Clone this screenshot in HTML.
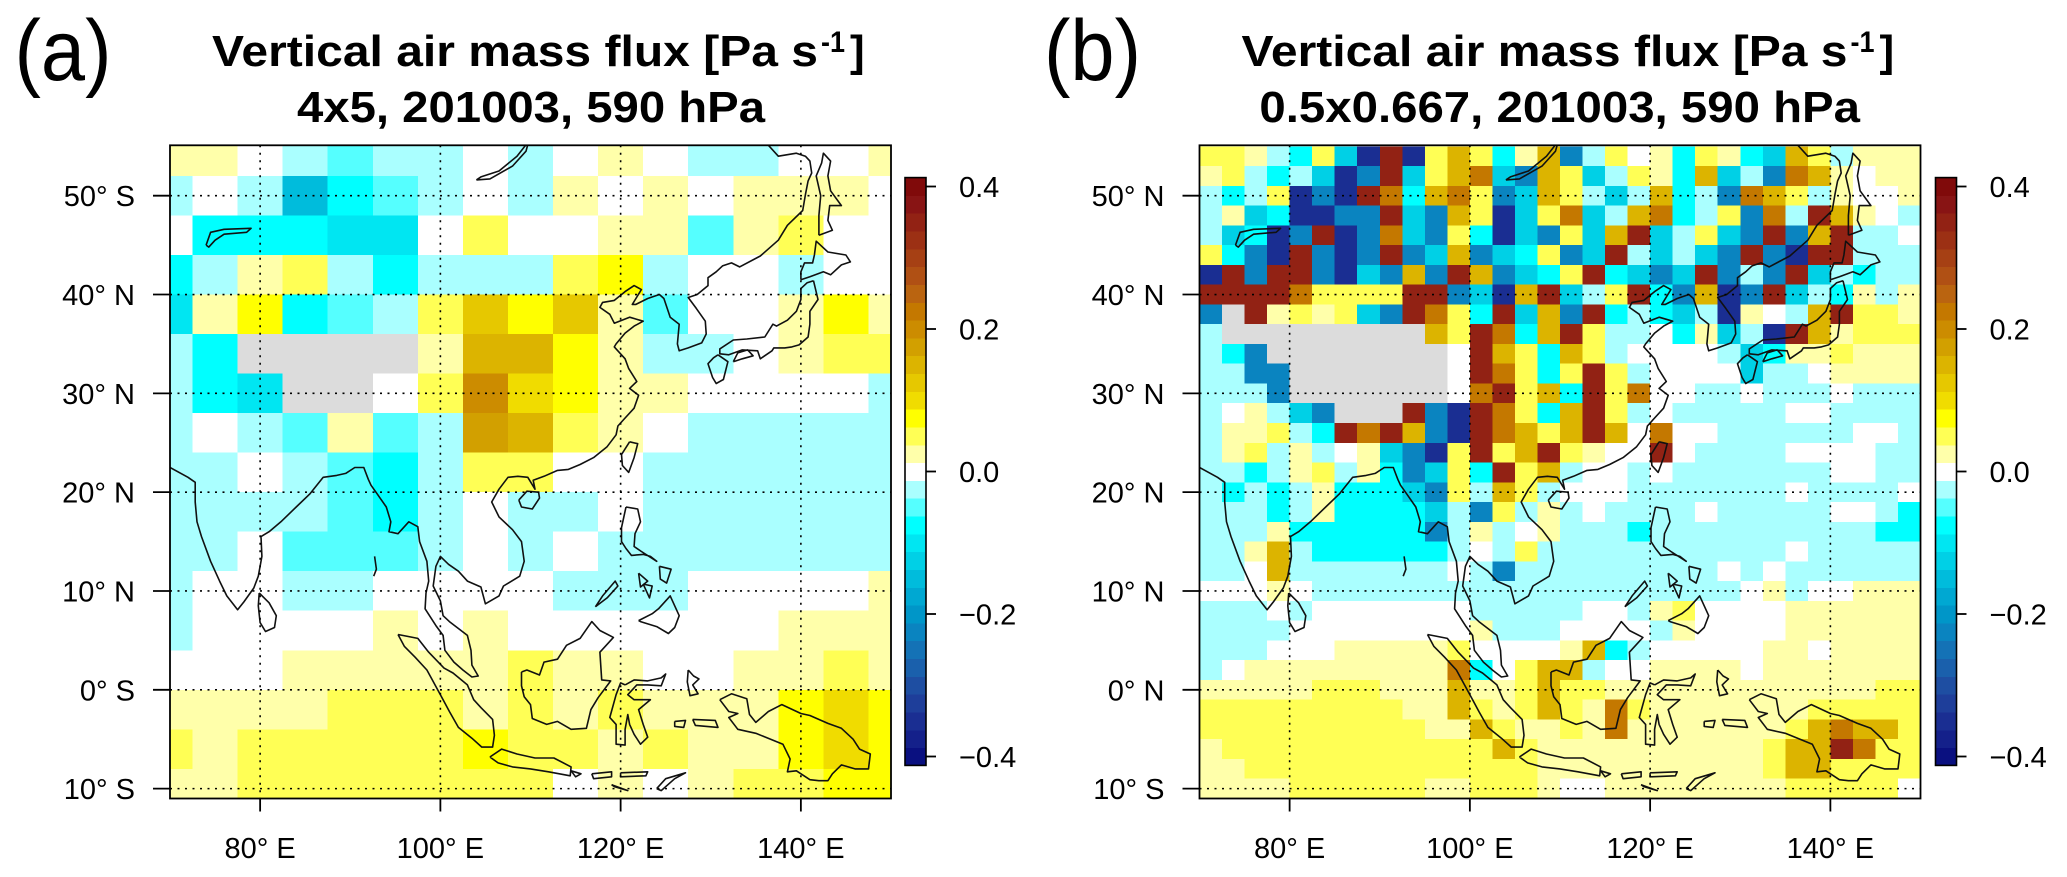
<!DOCTYPE html>
<html><head><meta charset="utf-8"><title>Vertical air mass flux</title>
<style>
html,body{margin:0;padding:0;background:#fff;}
svg{display:block;font-family:"Liberation Sans",Arial,sans-serif;}
</style></head>
<body>
<svg id="fig" width="2067" height="877" viewBox="0 0 2067 877" xmlns="http://www.w3.org/2000/svg">
<defs>
<clipPath id="clipA"><rect x="170" y="145.3" width="721" height="653"/></clipPath>
<clipPath id="clipB"><rect x="1199.5" y="145.3" width="721" height="653"/></clipPath>
</defs>
<rect x="0" y="0" width="2067" height="877" fill="#fff"/>
</svg>
<script>
// ---------- DATA ----------
const aLonStart = 67.5, aLonStep = 5, aLatTop = 56, aLatStep = 4;
const aValues = [
 [0.025,0.025,0,-0.025,-0.05,-0.025,-0.025,0,-0.025,0,0.025,0,-0.025,-0.025,0,0,0.025],
 [-0.025,0,-0.025,-0.15,-0.075,-0.05,-0.025,0,-0.025,0.025,0,0.025,0,0.025,0.025,0.025,0],
 [0,-0.075,-0.075,-0.075,-0.1,-0.1,0,0.05,0,0,0.025,0.025,-0.05,0.025,0.05,0,0],
 [-0.075,-0.025,0.025,0.05,-0.025,-0.075,-0.025,-0.025,-0.025,0.05,0.075,-0.025,0,0,-0.025,0,0],
 [-0.1,0.025,0.075,-0.075,-0.05,-0.025,0.05,0.125,0.075,0.125,0.025,-0.05,0,0,0.025,0.075,0.025],
 [-0.025,-0.075,null,null,null,null,0.025,0.15,0.15,0.075,0.025,-0.025,-0.025,0,0.025,0.05,0.05],
 [-0.025,-0.075,-0.1,null,null,0,0.05,0.2,0.1,0.075,0.025,0.025,0,0,0,0,-0.025],
 [-0.025,0,-0.025,-0.05,0.025,-0.05,-0.025,0.175,0.15,0.05,0.025,0,-0.025,-0.025,-0.025,-0.025,-0.025],
 [-0.025,-0.025,0,-0.025,-0.05,-0.075,-0.025,0.05,0.05,0,0,-0.025,-0.025,-0.025,-0.025,-0.025,-0.025],
 [-0.025,-0.025,-0.025,-0.025,-0.05,-0.075,-0.025,0,-0.025,-0.025,0,-0.025,-0.025,-0.025,-0.025,-0.025,-0.025],
 [-0.025,-0.025,0,-0.05,-0.05,-0.05,-0.025,0,-0.025,0,-0.025,-0.025,-0.025,-0.025,-0.025,-0.025,-0.025],
 [-0.025,0,0,-0.025,-0.025,0,0,0,0,-0.025,-0.025,-0.025,0,0,0,0,0.025],
 [-0.025,0,0,0,0,0.025,0,0.025,0,0,0,0,0,0,0.025,0.025,0.025],
 [0,0,0,0.025,0.025,0.025,0.025,0.025,0.05,0.025,0.025,0,0,0.025,0.025,0.05,0.025],
 [0.025,0.025,0.025,0.025,0.05,0.05,0.05,0.025,0.05,0.025,0.05,0.025,0.025,0.025,0.075,0.1,0.075],
 [0.05,0.025,0.05,0.05,0.05,0.05,0.05,0.075,0.05,0.05,0.025,0.05,0.025,0.025,0.075,0.1,0.075],
 [0.025,0.025,0.05,0.05,0.05,0.05,0.05,0.05,0.05,0,0.025,0,0.025,0.05,0.05,0.075,0.075]
];
const bLonStart = 70, bLonStep = 2.5, bLatTop = 55, bLatStep = 2;
const bCodeValues = {N:-0.35,B:-0.22,T:-0.13,C:-0.075,c:-0.025,'.':0,y:0.025,Y:0.05,G:0.15,O:0.22,R:0.35,x:null};
const bRows = [
 "YYycCYTNRNYGYCyGBcY.yCYyCTGYcyyy",
 "yYcCcTNBRTYGOTBGYTcYyCGTcBOGy.yy",
 "cCcYNBNROCGOYBTGYcTcGCcBOGYcy..y",
 "cyTCNNBBRTBGYNTYOTcGOCcYBOcRGy.c",
 "cTCNBRNBOTBYCNTBYTGRTcYTBRBGRcc.",
 "YCBNRBNBRBTGBTCYBTRcTcTBRBNRRccc",
 "NRBRRBNTBGBRGBTCYRCTBTRBcBRTcCcc",
 "RRRROYYYYRRBTNGRTcYRCBGNBRTcCycy",
 "BxRyYyYTBROYCRTGBRCcCTcNy.cGRYYy",
 "cxxxxxxxxxGYROCGRYcc.CyTcNRGyYYY",
 "cCBxxxxxxxx.RGYCGYc....cTCyyYyyy",
 "ccBBxxxxxxx.ROYCYRYc....Tcc.yyyy",
 "cccBxxxxxxx.ORYGCRYO..cc.ccc.ccc",
 "c.ycTBxxxRBNROYCGRYc.ccccc..cccc",
 "cyyYcCRORGBNROGYGRG.O..cccccc..c",
 "cyYcyc.yTBNYRYGRYy..R.cccc....cc",
 "ccCcyYcyCBTYCRYGc..c.ccccccc..cc",
 "cCcCcyCCCTBYcGYc...ccccccc.cccc.",
 "cccCcyCCCCTcBYcyc.cccc.ccccc..cC",
 "cccyCCCCCCBcyc.ycccCccccccccccCC",
 "ccyGcCCCCCCc.cYccccccccccc.ccccc",
 "cc.Gccccccc.cBccccccccc.c.cccccc",
 "...y.ccccccccccccccccccc.yc..yyy",
 "ccc.c.......ccccc..cyY....yyyyyy",
 "cccc........yccc....cy....yyyyyy",
 "ccc...yyyyyY....yGCc.....yy.yyyy",
 "c.yyyyyyyyyOC.YGGc..yyyy.yyyyyyy",
 "yyyyyYYYyyyGyyYGYYyyyyyyyyyyyyYY",
 "YYYYYYYYYyyGYyYGYyOYyyyyyyyYYYYY",
 "YYYYYYYYYYyyGYyyYyOyyyyyyyYGOGGY",
 "yYYYYYYYYYYYYGYyyyyyyyyyyYGGROYY",
 "yyYYYYYYYYYYYYYyyyyyyyyyyYGGYYYY",
 "yyyyYYYYYYyyYYYy..yyyyyyyyYYYYY."
];
const lonTicks = [80,100,120,140];
const lonTickLabels = ["80° E","100° E","120° E","140° E"];
const latTicks = [50,40,30,20,10,0,-10];
const latLabelsA = ["50° S","40° N","30° N","20° N","10° N","0° S","10° S"];
const latLabelsB = ["50° N","40° N","30° N","20° N","10° N","0° N","10° S"];
const cbTicks = [0.4,0.2,0,-0.2,-0.4];
const cbTickLabels = ["0.4","0.2","0.0","\u22120.2","\u22120.4"];

const POS = ['#ffffff','#ffffaa','#ffff55','#ffff00','#f0dc00','#e6c800','#dcb400','#d2a000','#cc8c00','#c47800','#ba6410','#b05014','#a64014','#9c3014','#922214','#881414','#800a0a'];
const NEG = ['#ffffff','#aaffff','#55ffff','#00ffff','#00e6f2','#00d0e6','#00bcdc','#00a8d2','#0096c8','#0a84c0','#1472b6','#1a60ac','#1e4ea2','#1e3e9a','#1a2e92','#14208a','#0a1080'];

const coasts = [
 [[70,22.5],[72,21.5],[72.8,21],[72.8,19],[73,17],[73.5,15.5],[74.5,13],[75.5,11],[76.3,9.5],[77.5,8.1],[78.2,8.9],[79.3,10.3],[79.8,11.5],[80.2,13.5],[80.1,15.5],[81,16],[82.3,17],[84,18.5],[85.5,19.8],[87,21.5],[88.5,21.7],[89.5,21.9],[90.5,22.5],[91.5,22.5],[92,21.3],[92.3,20.7],[93,19.8],[94,18.5],[94.5,17],[94.3,16],[95.3,15.8],[96.5,17],[97.5,16.5],[97.7,15],[98.5,13],[98.7,11],[98.4,9.8],[98.3,8.2],[99.5,6.5],[100.3,5.5],[100.5,4],[101.5,2.8],[102.5,2],[103.5,1.3],[104.2,1.4],[103.5,2.5],[103.4,4],[103,5.5],[102,6.2],[101,6.9],[100.3,7.5],[100,9],[99.2,10.5],[99.5,12.5],[100,13.5],[100.9,12.7],[102,12],[103,11],[104.5,10.4],[105,8.7],[106.5,9.5],[107,10.5],[108.8,11.5],[109.3,13],[109,15],[108,16.2],[106.5,17.5],[105.7,19],[106.5,20.3],[107.5,21.5],[108.6,21.6],[109.7,21.5],[110.5,20.3],[110.3,21.2],[111.5,21.6],[113,22.2],[114.2,22.3],[115.5,22.8],[117,23.5],[118.5,24.6],[119.5,25.8],[119.7,26.7],[120.5,27.5],[121.5,28.5],[122,29.8],[121,30.5],[121.8,31.2],[120.9,32.5],[120.5,33.5],[119.3,34.7],[119.5,35],[120.5,36.1],[121.5,36.8],[122.5,37.3],[121,37.7],[119.3,37.1],[118.8,38],[117.7,38.7],[118,39.2],[119.3,39.4],[120.5,40.3],[121.5,40.9],[122.3,40.5],[121.3,39],[121.7,39],[123,39.6],[124.3,40],[124.8,39.6],[125.5,37.7],[126.5,37],[126.3,35],[126.5,34.3],[127.5,34.6],[129,35.1],[129.5,36],[129.4,37.3],[128.4,38.6],[127.5,39.7],[128.5,40],[129.7,40.9],[129.7,41.7],[130.6,42.3],[131.3,42.9],[132.3,43.2],[133.2,42.8],[135.5,43.9],[137.5,45.5],[138.5,47],[140.2,48.5],[140.5,50.1],[140.8,51.5],[141.2,52.3],[141,53.5],[140.5,54],[139.5,54.3],[137.5,54],[136,55.5]],
 [[142,46],[143.5,46.5],[143,47.5],[143.2,49],[144.5,49],[143.3,50.5],[143,52],[143.3,53.5],[142.5,54.3],[142.3,53.3],[141.7,52],[142.2,50],[142,48],[142,46]],
 [[140,41.5],[141,41.8],[142.5,42.3],[143.3,42],[144.5,43],[145.5,43.3],[145,44],[143,44.3],[141.7,45.4],[141.5,44],[141.3,43.2],[140.4,43.2],[140,42.3],[140,41.5]],
 [[141.4,41.4],[141.9,39.5],[141,38.3],[141,37],[140.8,35.7],[139.8,34.9],[139,34.7],[138.2,34.6],[137,34.6],[136.8,34.3],[135.5,33.5],[135.2,34.3],[133.5,34.4],[132,33.9],[131,34],[131,34.5],[132.5,35.4],[134,35.5],[136,35.7],[136.9,37],[137.3,36.8],[138.5,37.4],[139.5,38.3],[140,39.5],[140,40.6],[140.7,41.2],[141.4,41.4]],
 [[130.8,33.9],[131.9,33.2],[131.4,31.4],[130.6,31],[130.2,31.6],[129.7,33],[130.3,33.6],[130.8,33.9]],
 [[132.5,33.2],[133.5,33.5],[134.7,33.8],[134.1,34.4],[133,34.1],[132.5,33.2]],
 [[121,25.1],[121.9,24.9],[121.5,23.5],[120.9,22],[120.2,22.7],[120.1,23.8],[121,25.1]],
 [[108.7,19.2],[109.6,20.1],[110.9,20],[111,19.4],[110.2,18.3],[109,18.5],[108.7,19.2]],
 [[79.9,9.8],[81,8.8],[81.8,7.5],[81.6,6.3],[80.6,5.9],[80,6.8],[79.8,8.5],[79.9,9.8]],
 [[120.6,18.5],[121.9,18.3],[122.2,17],[121.6,15.8],[121.5,14.5],[122.3,14],[124,13],[123.3,13.5],[122.5,13.7],[121.2,13.6],[120.6,14.3],[120.1,15],[120.1,16.4],[120.6,18.5]],
 [[122,7],[123.5,7.7],[124.2,8.2],[125.5,9.5],[126.5,7.5],[126,6.3],[125.3,5.7],[124,6.4],[122.2,6.9],[122,7]],
 [[124.3,12.5],[125.6,12.2],[125.1,10.8],[124.4,11.2],[124.3,12.5]],
 [[122,11.8],[123,11],[122.2,10.4],[122,11.8]],
 [[122.5,10.7],[123.5,10.5],[123.2,9.3],[122.5,10.7]],
 [[117.2,8.4],[118.5,9.3],[119.7,10.5],[119.4,11],[118,9.5],[117.2,8.4]],
 [[109,1.8],[109.6,2],[111,1.5],[111.5,2.8],[113,3.1],[114,4.5],[115.5,5.2],[116.8,6.9],[117.7,6],[119.2,5.3],[118.3,4.4],[117.7,3.8],[117.9,1],[118.9,0.9],[117.5,-0.8],[116.7,-2],[116.2,-3.9],[114.5,-4],[113,-3.2],[111.8,-3.5],[110.2,-2.9],[110,-1.5],[109.3,-0.7],[109,0.4],[109,1.8]],
 [[95.3,5.6],[97.5,5.2],[98.7,3.8],[100.4,2.2],[101.4,1.7],[103,0.5],[103.7,-1],[104.5,-1.8],[105.8,-3],[106,-4.6],[105.8,-5.8],[104.6,-5.8],[103.5,-4.9],[102,-3.8],[101,-2.2],[100.3,-1],[99.1,1],[98.5,2],[97.2,3.3],[96,4.4],[95.3,5.6]],
 [[105.5,-6.8],[106.8,-6],[108.5,-6.5],[110.5,-6.9],[112.6,-6.9],[114.5,-7.8],[114.4,-8.7],[112,-8.3],[110,-8],[108,-7.8],[106.4,-7.4],[105.5,-6.8]],
 [[114.5,-8.2],[115.6,-8.5],[115,-8.8],[114.5,-8.2]],
 [[116.8,-8.5],[119,-8.3],[119,-8.8],[117,-9],[116.8,-8.5]],
 [[120,-8.4],[123,-8.3],[122.8,-8.7],[120,-8.8],[120,-8.4]],
 [[124,-10],[125,-9],[127.2,-8.4],[126,-9],[124.5,-10.2],[124,-10]],
 [[119,-9.6],[120.8,-10.2],[119.3,-9.8],[119,-9.6]],
 [[120.5,0.5],[121.5,1],[123,0.9],[124.5,1.2],[125,1.6],[124.5,0.4],[123,0.5],[121.8,0.5],[120.8,-0.5],[121.5,-1],[123.3,-1],[122,-2],[122.5,-3.5],[123,-4.8],[122.2,-5.5],[121.5,-4.5],[121,-3.5],[120.8,-2.5],[120.5,-4],[120.5,-5.6],[119.5,-5.5],[119.5,-3.5],[118.8,-2.8],[119.5,-0.5],[120,0.7],[120.5,0.5]],
 [[127.5,2],[128.1,1.4],[128.7,1.1],[128,0.5],[128.6,-0.4],[127.7,-0.6],[127.4,0.8],[127.5,2]],
 [[128,-3],[130.5,-3.1],[130.8,-3.8],[128.3,-3.6],[128,-3]],
 [[126,-3.2],[127.2,-3.1],[127,-3.8],[126,-3.7],[126,-3.2]],
 [[131,-1],[132.3,-0.4],[134,-0.9],[134.3,-2.5],[135,-3.3],[136.4,-2.2],[137.9,-1.5],[140,-2.4],[141,-2.6],[143,-3.4],[144.5,-3.9],[145.8,-5],[146.5,-6],[147.7,-6.5],[147.5,-8],[146,-8],[144.5,-7.6],[143.5,-8.5],[143,-9.2],[142,-9.2],[141,-9.1],[139.5,-8.2],[138.5,-8.3],[138.8,-7],[138,-5.5],[135,-4.4],[133,-4],[132,-2.8],[133,-2.4],[132,-2.2],[131,-1]],
 [[150,-5],[151.5,-4.2],[152,-5.5],[150,-6]],
 [[92.7,13.5],[92.9,12.2],[92.6,11.5]],
 [[74,45],[74.5,46.3],[76,46.6],[79,46.7],[78.5,46.3],[76,46.1],[75,45.5],[74.3,44.8],[74,45]],
 [[104,51.6],[105.5,51.7],[108,53],[109.5,54.5],[109.8,55.5],[108.5,54],[106.5,52.5],[104.5,51.9],[104,51.6]]
];

// ---------- DRAWING ----------
const NS = "http://www.w3.org/2000/svg";
const svg = document.getElementById('fig');
const PX0 = [170, 1199.5];
const PW = 721;
function xScale(lon, p){ return PX0[p] + (lon - 70) * PW / 80; }
function yScale(lat){ return 195.7 + (50 - lat) * 9.882; }
const PTOP = yScale(55.1), PBOT = yScale(-11);
function colour(v){
  if (v === null || v === undefined || isNaN(v)) return '#dcdcdc';
  let k = Math.round(v / 0.025);
  if (k > 16) k = 16; if (k < -16) k = -16;
  return k >= 0 ? POS[k] : NEG[-k];
}
function el(tag, attrs, parent){
  const e = document.createElementNS(NS, tag);
  for (const k in attrs) e.setAttribute(k, attrs[k]);
  (parent || svg).appendChild(e);
  return e;
}
function txt(str, attrs, parent){
  const t = el('text', attrs, parent);
  t.textContent = str;
  return t;
}

function drawCells(p, grid, lon0, lonStep, latTop, latStep){
  const g = el('g', {'clip-path': p === 0 ? 'url(#clipA)' : 'url(#clipB)', 'shape-rendering':'crispEdges'});
  
  
  for (let r = 0; r < grid.length; r++){
    for (let c = 0; c < grid[r].length; c++){
      const v = grid[r][c];
      const x0 = xScale(lon0 + c * lonStep, p), x1 = xScale(lon0 + (c + 1) * lonStep, p);
      const y0 = yScale(latTop - r * latStep), y1 = yScale(latTop - (r + 1) * latStep);
      const rc = el('rect', {x: x0.toFixed(2), y: y0.toFixed(2), width: (x1 - x0 + 0.6).toFixed(2), height: (y1 - y0 + 0.6).toFixed(2), fill: colour(v)}, g);
      
      
    }
  }
}

function drawPanel(p, grid, lon0, lonStep, latTop, latStep, latLabels, letter, line2, l2x0, l2x1){
  const dx = PX0[p] - PX0[0];
  drawCells(p, grid, lon0, lonStep, latTop, latStep);
  const cg = el('g', {'clip-path': p === 0 ? 'url(#clipA)' : 'url(#clipB)', fill:'none', stroke:'#111', 'stroke-width':'1.6', 'stroke-linejoin':'round'});
  
  
  coasts.forEach(function(line){
    const d = line.map(function(pt, i){ return (i ? 'L' : 'M') + xScale(pt[0], p).toFixed(1) + ' ' + yScale(pt[1]).toFixed(1); }).join(' ');
    const pth = el('path', {d: d}, cg);
    
    
  });
  const gg = el('g', {stroke:'#000', 'stroke-width':'1.6', 'stroke-dasharray':'2,5.5'});
  
  
  lonTicks.forEach(function(lon){
    const x = xScale(lon, p);
    el('line', {x1:x, x2:x, y1:PTOP, y2:PBOT}, gg);
  });
  latTicks.forEach(function(lat){
    const y = yScale(lat);
    el('line', {x1:PX0[p], x2:PX0[p] + PW, y1:y, y2:y}, gg);
  });
  const fr = el('rect', {x:PX0[p], y:PTOP, width:PW, height:PBOT - PTOP, fill:'none', stroke:'#000', 'stroke-width':'1.8'});
  
  
  latTicks.forEach(function(lat, i){
    const y = yScale(lat);
    el('line', {x1:PX0[p] - 17, x2:PX0[p], y1:y, y2:y, stroke:'#000', 'stroke-width':'1.8'});
    const t = txt(latLabels[i], {x:PX0[p] - 35, y:y + 10.5, 'font-size':'29', 'text-anchor':'end', fill:'#000'});
    
    
  });
  lonTicks.forEach(function(lon, i){
    const x = xScale(lon, p);
    el('line', {x1:x, x2:x, y1:PBOT, y2:PBOT + 13, stroke:'#000', 'stroke-width':'1.8'});
    const t = txt(lonTickLabels[i], {x:x, y:858, 'font-size':'29', 'text-anchor':'middle', fill:'#000'});
    
    
  });
  const cbx = 905 + dx + (p ? 1 : 0), cbw = 21;
  const cbY = function(v){ return 471.5 - v * 712.5; };
  const cbg = el('g', {'shape-rendering':'crispEdges'});
  
  
  for (let k = -16; k <= 16; k++){
    const yTop = cbY((k + 0.5) * 0.025), yBot = cbY((k - 0.5) * 0.025);
    const b = el('rect', {x:cbx, y:yTop.toFixed(2), width:cbw, height:(yBot - yTop + 0.5).toFixed(2), fill:colour(k * 0.025)}, cbg);
    
    
  }
  el('rect', {x:cbx, y:cbY(0.4125), width:cbw, height:cbY(-0.4125) - cbY(0.4125), fill:'none', stroke:'#000', 'stroke-width':'1.6'});
  cbTicks.forEach(function(v, i){
    const y = cbY(v);
    el('line', {x1:cbx + cbw, x2:cbx + cbw + 10, y1:y, y2:y, stroke:'#000', 'stroke-width':'1.8'});
    const t = txt(cbTickLabels[i], {x:cbx + 54, y:y + 10.5, 'font-size':'29', fill:'#000'});
    
    
  });
  const t1 = txt('Vertical air mass flux [Pa s', {x:212 + dx, y:66, 'font-size':'44', 'font-weight':'bold', textLength:'606', lengthAdjust:'spacingAndGlyphs'});
  
  
  const t1b = txt('-1', {x:821 + dx, y:52, 'font-size':'30', 'font-weight':'bold', textLength:'24', lengthAdjust:'spacingAndGlyphs'});
  
  
  const t1c = txt(']', {x:850 + dx, y:66, 'font-size':'44', 'font-weight':'bold'});
  
  
  const t2 = txt(line2, {x:l2x0, y:122, 'font-size':'44', 'font-weight':'bold', textLength:(l2x1 - l2x0).toFixed(1), lengthAdjust:'spacingAndGlyphs'});
  
  
  const pl = txt(letter, {x:14.5 + dx, y:80, 'font-size':'86', textLength:'97', lengthAdjust:'spacingAndGlyphs'});
  
  
}

const bGrid = bRows.map(function(row){ return row.split('').map(function(ch){ return bCodeValues[ch]; }); });

drawPanel(0, aValues, aLonStart, aLonStep, aLatTop, aLatStep, latLabelsA, '(a)', '4x5, 201003, 590 hPa', 297, 765);
drawPanel(1, bGrid, bLonStart, bLonStep, bLatTop, bLatStep, latLabelsB, '(b)', '0.5x0.667, 201003, 590 hPa', 1259.4, 1860);
</script>
</body></html>
